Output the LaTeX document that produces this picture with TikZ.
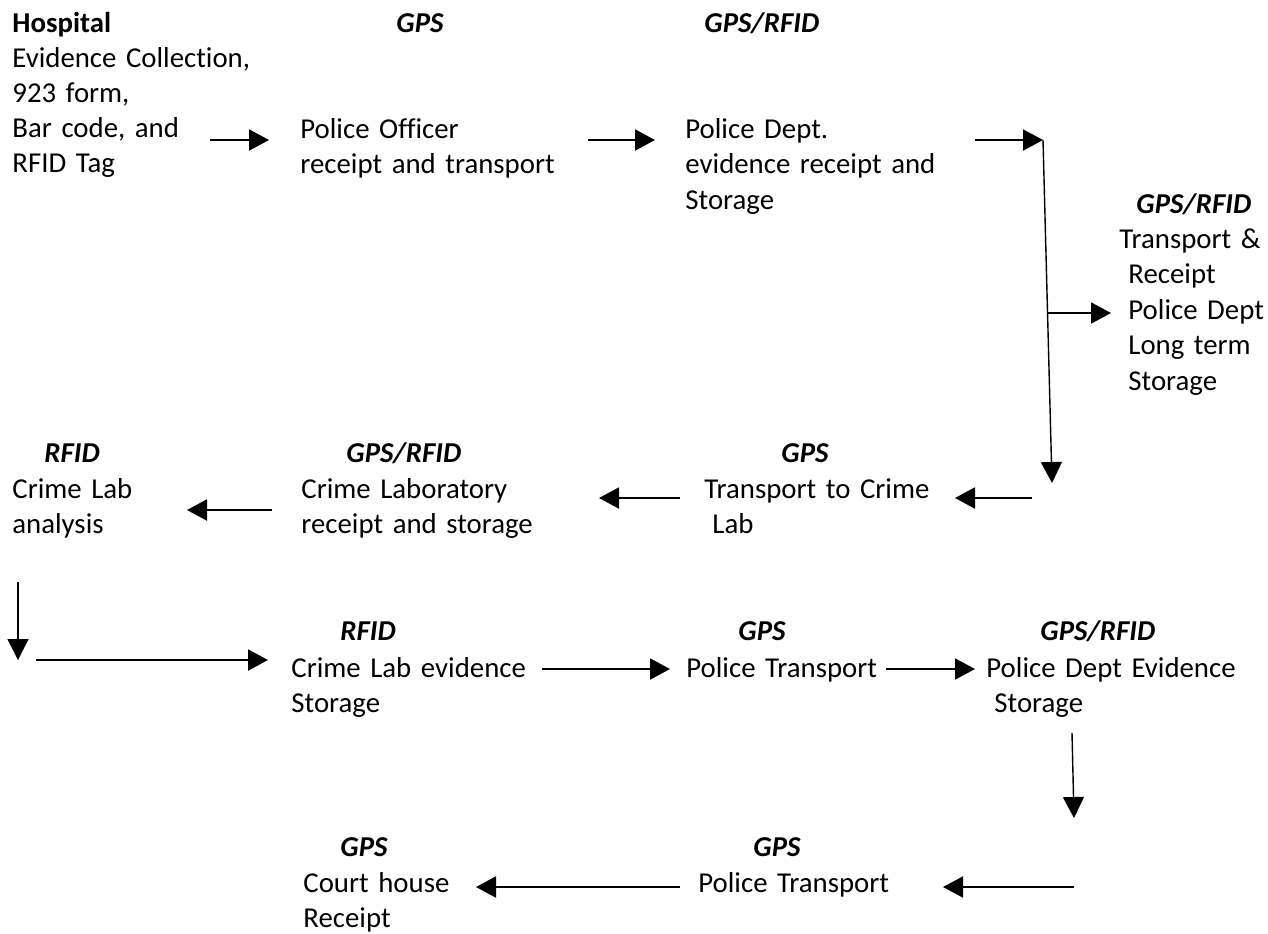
\documentclass[tikz,border=0pt]{standalone}
\usepackage{fontspec}
\setmainfont{Carlito}[Ligatures=NoCommon]
\usetikzlibrary{arrows.meta}

\tikzset{
  stage/.style={anchor=base west,inner sep=0pt,text width=150pt,align=left,
    font=\fontsize{14.4}{17.75}\selectfont},
  tag/.style={anchor=base west,inner sep=0pt,
    font=\fontsize{14.4}{17.75}\selectfont\bfseries\itshape},
  flow/.style={line width=1pt,-{Triangle[length=10pt,width=10.5pt]}},
  drop/.style={line width=0.7pt,-{Triangle[length=10.5pt,width=10.5pt]}}
}

\begin{document}
\begin{tikzpicture}[x=0.5pt,y=-0.5pt]
\useasboundingbox (0,0) rectangle (1268,933);
% ends of the arrows
\coordinate (p1) at (210,140);
\coordinate (p2) at (269,140);
\coordinate (p3) at (588,140);
\coordinate (p4) at (655,140);
\coordinate (p5) at (975,140);
\coordinate (p6) at (1043,140);
\coordinate (p7) at (1043,140);
\coordinate (p8) at (1052,483);
\coordinate (p9) at (1048,313);
\coordinate (p10) at (1111,313);
\coordinate (p11) at (1032,498);
\coordinate (p12) at (955,498);
\coordinate (p13) at (680,498);
\coordinate (p14) at (599,498);
\coordinate (p15) at (272,510);
\coordinate (p16) at (187,510);
\coordinate (p17) at (18,582);
\coordinate (p18) at (18,660);
\coordinate (p19) at (36,660);
\coordinate (p20) at (268,660);
\coordinate (p21) at (542,669);
\coordinate (p22) at (670,669);
\coordinate (p23) at (886,669);
\coordinate (p24) at (975,669);
\coordinate (p25) at (1072,733);
\coordinate (p26) at (1074,818);
\coordinate (p27) at (1074,887);
\coordinate (p28) at (943,887);
\coordinate (p29) at (680,887);
\coordinate (p30) at (476,887);

% the steps of the chain
\node[stage,font=\fontsize{14.4}{17.5}\selectfont] (hosp) at (12,32)
  {\textbf{Hospital}\\Evidence Collection,\\923 form,\\Bar code, and\\RFID Tag};
\node[stage] (officer) at (300,138) {Police Officer\\receipt and transport};
\node[stage] (deptstore) at (685,138) {Police Dept.\\evidence receipt and\\Storage};
\node[stage] (longterm) at (1119,248)
  {Transport \&\\\hspace*{4.5pt}Receipt\\\hspace*{4.5pt}Police Dept\\\hspace*{4.5pt}Long term\\\hspace*{4.5pt}Storage};
\node[stage] (analysis) at (12,498) {Crime Lab\\analysis};
\node[stage] (labreceipt) at (301,498) {Crime Laboratory\\receipt and storage};
\node[stage] (tolab) at (704,498) {Transport to Crime\\\hspace*{4pt}Lab};
\node[stage] (labstore) at (291,677) {Crime Lab evidence\\Storage};
\node[stage] (transpA) at (686,677) {Police Transport};
\node[stage] (deptevid) at (986,677) {Police Dept Evidence\\\hspace*{4pt}Storage};
\node[stage] (court) at (303,892) {Court house\\Receipt};
\node[stage] (transpB) at (698,892) {Police Transport};

% tracking labels
\foreach \n/\x/\y/\t in {gpsA/396/32/GPS, gpsB/704/32/{GPS/RFID},
  gpsC/1136/213/{GPS/RFID}, rfidA/44/462/RFID, gpsD/346/462/{GPS/RFID},
  gpsE/781/462/GPS, rfidB/340/640/RFID, gpsF/738/640/GPS,
  gpsG/1040/640/{GPS/RFID}, gpsH/340/856/GPS, gpsI/753/856/GPS}
  \node[tag] (\n) at (\x,\y) {\t};

% arrows
\foreach \a/\b in {p1/p2,p3/p4,p5/p6,p9/p10,p11/p12,p13/p14,p15/p16,
  p19/p20,p21/p22,p23/p24,p27/p28,p29/p30}
  \draw[flow] (\a) -- (\b);
\foreach \a/\b in {p7/p8,p17/p18,p25/p26}
  \draw[drop] (\a) -- (\b);
\end{tikzpicture}
\end{document}
